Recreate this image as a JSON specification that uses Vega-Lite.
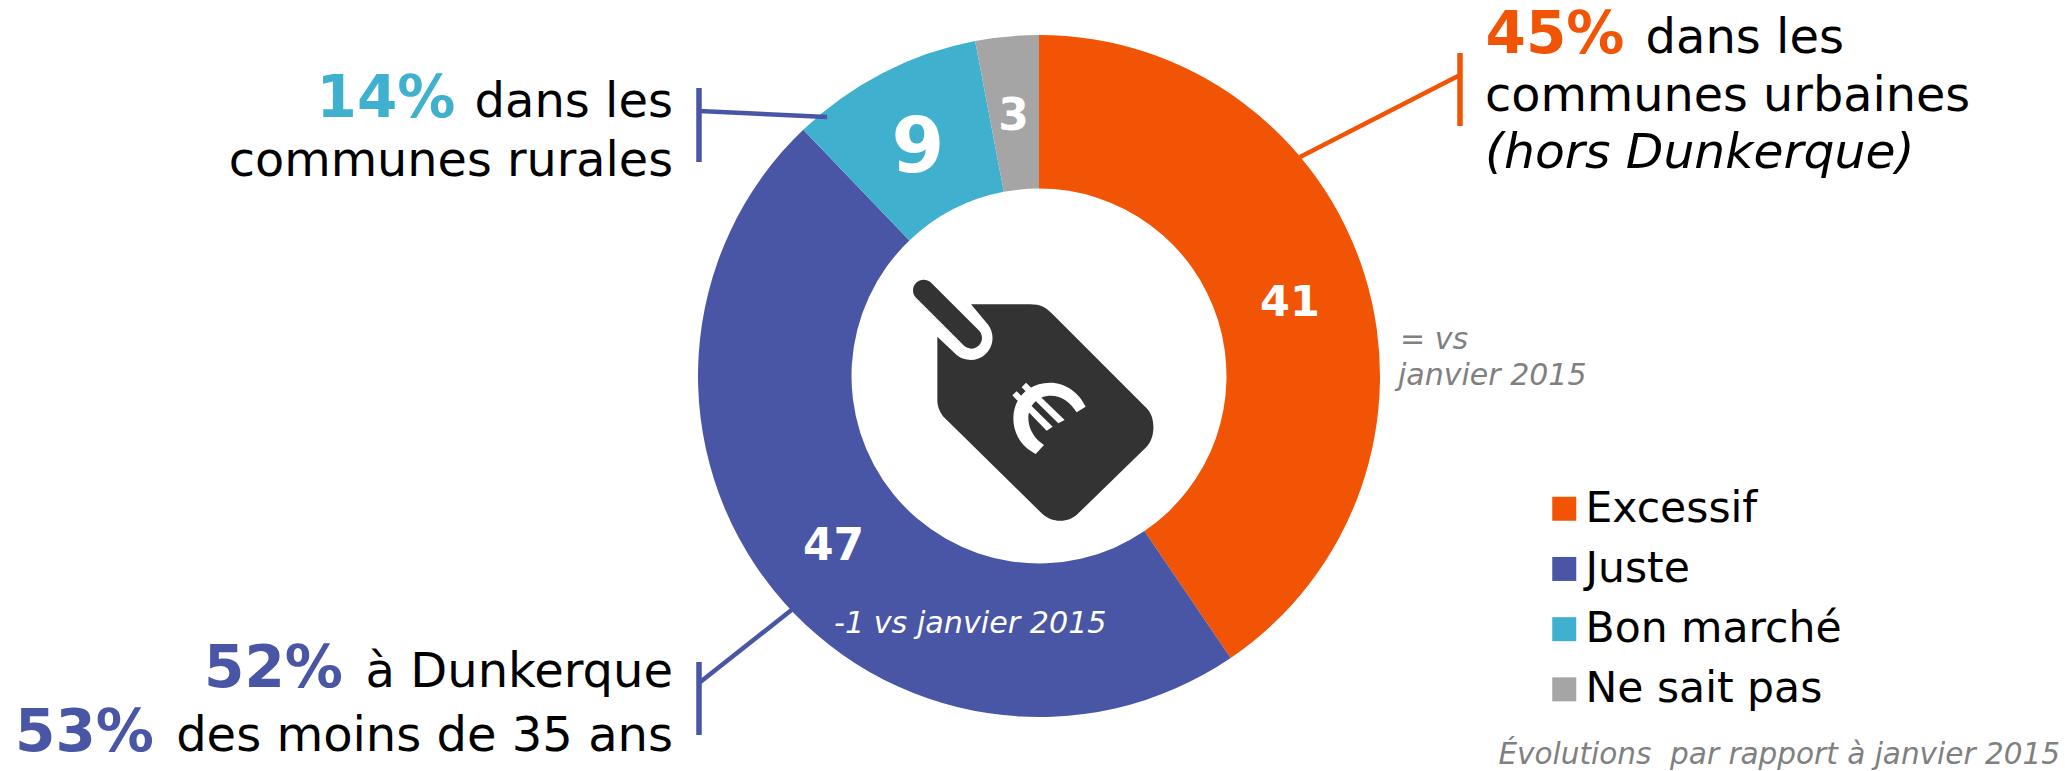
{
"$schema":"https://vega.github.io/schema/vega-lite/v6.json",
"width":2065,"height":771,"padding":0,"autosize":{"type":"none"},
"background":"white",
"config":{"view":{"stroke":null},"text":{"font":"DejaVu Sans","baseline":"alphabetic"},"legend":{"labelFont":"DejaVu Sans"}},
"datasets":{"avis":[
{"categorie":"Excessif","valeur":41,"part":40.5,"rang":1},
{"categorie":"Juste","valeur":47,"part":47.35,"rang":2},
{"categorie":"Bon marché","valeur":9,"part":9.15,"rang":3},
{"categorie":"Ne sait pas","valeur":3,"part":3,"rang":4}
]},
"layer":[
{"data":{"name":"avis"},
 "mark":{"type":"arc","outerRadius":341,"innerRadius":187.5,"stroke":null},
 "encoding":{
  "x":{"datum":1039,"type":"quantitative","scale":{"domain":[0,2065],"nice":false,"zero":false},"axis":null},
  "y":{"datum":376,"type":"quantitative","scale":{"domain":[771,0],"nice":false,"zero":false},"axis":null},
  "theta":{"field":"part","type":"quantitative","stack":true,"scale":{"domain":[0,100],"range":[0,6.283185307]}},
  "order":{"field":"rang","type":"ordinal"},
  "color":{"field":"categorie","type":"nominal",
   "scale":{"domain":["Excessif","Juste","Bon marché","Ne sait pas"],"range":["#F25405","#4955A5","#3FB1CE","#A5A5A5"]},
   "legend":{"title":null,"orient":"none","legendX":1543,"legendY":487.5,"symbolType":"square","symbolSize":576,"symbolStrokeWidth":0,"labelFontSize":42.5,"labelColor":"#000000","labelOffset":0,"rowPadding":17.2,"labelLimit":400}}
 }},
{"data":{"values":[{"id":"etiquette"}]},
 "mark":{"type":"point","filled":true,"opacity":1,"fill":"#333333","strokeWidth":0,"size":0.4444,
  "shape":"M-204,-215 L-27,-215 C5,-215 20,-206 38,-188 L323,97 C350,122 350,186 323,212 L118,412 C90,442 38,442 8,412 L-282,127 C-297,112 -305,92 -305,72 L-305,-118 L-247,-63 A66 66 0 0 0 -152,-153 Z M-324.4,-280.6 L-179.4,-135.6 A32 32 0 0 1 -224.6,-90.4 L-369.6,-235.4 A32 32 0 0 1 -324.4,-280.6 Z"},
 "encoding":{"x":{"datum":1039},"y":{"datum":376}}},
{"data":{"values":[{"id":"euro"}]},
 "mark":{"type":"point","filled":true,"opacity":1,"fill":"#ffffff","strokeWidth":0,"size":0.4444,
  "shape":"M140,92 C120,50 80,20 33,20 C-30,20 -77,65 -77,127 C-77,175 -50,215 -10,234 L15,207 C-12,190 -32,160 -32,127 C-32,90 -5,59 35,59 C70,59 95,80 113,109 Z M-39,20 L-52,34 L58,142 L77,132 Z M-67,46 L-80,58 L23,164 L41,152 Z"},
 "encoding":{"x":{"datum":1039},"y":{"datum":376}}},
{"data":{"name":"avis"},"transform":[{"filter":"datum.categorie==='Excessif'"}],
 "mark":{"type":"text","fontWeight":"bold","fontSize":43,"fill":"#ffffff","align":"center"},
 "encoding":{"x":{"datum":1290},"y":{"datum":316},"text":{"field":"valeur"}}},
{"data":{"name":"avis"},"transform":[{"filter":"datum.categorie==='Juste'"}],
 "mark":{"type":"text","fontWeight":"bold","fontSize":44,"fill":"#ffffff","align":"center"},
 "encoding":{"x":{"datum":833.5},"y":{"datum":560},"text":{"field":"valeur"}}},
{"data":{"name":"avis"},"transform":[{"filter":"datum.categorie==='Bon marché'"}],
 "mark":{"type":"text","fontWeight":"bold","fontSize":76,"fill":"#ffffff","align":"center"},
 "encoding":{"x":{"datum":918},"y":{"datum":172},"text":{"field":"valeur"}}},
{"data":{"name":"avis"},"transform":[{"filter":"datum.categorie==='Ne sait pas'"}],
 "mark":{"type":"text","fontWeight":"bold","fontSize":44,"fill":"#ffffff","align":"center"},
 "encoding":{"x":{"datum":1013.5},"y":{"datum":130},"text":{"field":"valeur"}}},

{"data":{"values":[{"id":"trait"}]},"mark":{"type":"rule","stroke":"#4955A5","strokeWidth":5.5},"encoding":{"x":{"datum":699},"y":{"datum":88},"y2":{"datum":162}}},
{"data":{"values":[{"id":"trait"}]},"mark":{"type":"rule","stroke":"#4955A5","strokeWidth":4.5},"encoding":{"x":{"datum":699},"y":{"datum":111},"x2":{"datum":827},"y2":{"datum":117}}},
{"data":{"values":[{"id":"trait"}]},"mark":{"type":"rule","stroke":"#F25405","strokeWidth":5.5},"encoding":{"x":{"datum":1460},"y":{"datum":53},"y2":{"datum":126}}},
{"data":{"values":[{"id":"trait"}]},"mark":{"type":"rule","stroke":"#F25405","strokeWidth":4.5},"encoding":{"x":{"datum":1460},"y":{"datum":75},"x2":{"datum":1300},"y2":{"datum":157}}},
{"data":{"values":[{"id":"trait"}]},"mark":{"type":"rule","stroke":"#4955A5","strokeWidth":5.5},"encoding":{"x":{"datum":699},"y":{"datum":662},"y2":{"datum":735}}},
{"data":{"values":[{"id":"trait"}]},"mark":{"type":"rule","stroke":"#4955A5","strokeWidth":4.5},"encoding":{"x":{"datum":699},"y":{"datum":683},"x2":{"datum":794},"y2":{"datum":608}}},

{"data":{"values":[{"t":"14%"}]},"mark":{"type":"text","fontWeight":"bold","fontSize":58,"fill":"#3FB1CE","align":"center"},"encoding":{"x":{"datum":386},"y":{"datum":117},"text":{"field":"t"}}},
{"data":{"values":[{"t":"dans les"}]},"mark":{"type":"text","fontSize":48,"fill":"#000000","align":"right"},"encoding":{"x":{"datum":673},"y":{"datum":117},"text":{"field":"t"}}},
{"data":{"values":[{"t":"communes rurales"}]},"mark":{"type":"text","fontSize":47.7,"fill":"#000000","align":"right"},"encoding":{"x":{"datum":673},"y":{"datum":176},"text":{"field":"t"}}},

{"data":{"values":[{"t":"45%"}]},"mark":{"type":"text","fontWeight":"bold","fontSize":58,"fill":"#F25405","align":"center"},"encoding":{"x":{"datum":1555},"y":{"datum":53},"text":{"field":"t"}}},
{"data":{"values":[{"t":"dans les"}]},"mark":{"type":"text","fontSize":48,"fill":"#000000","align":"right"},"encoding":{"x":{"datum":1844},"y":{"datum":53},"text":{"field":"t"}}},
{"data":{"values":[{"t":"communes urbaines"}]},"mark":{"type":"text","fontSize":47.7,"fill":"#000000","align":"left"},"encoding":{"x":{"datum":1485},"y":{"datum":111},"text":{"field":"t"}}},
{"data":{"values":[{"t":"(hors Dunkerque)"}]},"mark":{"type":"text","fontSize":48.8,"fontStyle":"italic","fill":"#000000","align":"left"},"encoding":{"x":{"datum":1485},"y":{"datum":168},"text":{"field":"t"}}},

{"data":{"values":[{"t":"= vs"}]},"mark":{"type":"text","fontSize":30,"fontStyle":"italic","fill":"#808080","align":"left"},"encoding":{"x":{"datum":1400},"y":{"datum":349},"text":{"field":"t"}}},
{"data":{"values":[{"t":"janvier 2015"}]},"mark":{"type":"text","fontSize":30,"fontStyle":"italic","fill":"#808080","align":"left"},"encoding":{"x":{"datum":1398},"y":{"datum":385},"text":{"field":"t"}}},
{"data":{"values":[{"t":"-1 vs janvier 2015"}]},"mark":{"type":"text","fontSize":30.2,"fontStyle":"italic","fill":"#ffffff","align":"left"},"encoding":{"x":{"datum":834},"y":{"datum":633},"text":{"field":"t"}}},

{"data":{"values":[{"t":"52%"}]},"mark":{"type":"text","fontWeight":"bold","fontSize":58,"fill":"#4955A5","align":"center"},"encoding":{"x":{"datum":273.5},"y":{"datum":687},"text":{"field":"t"}}},
{"data":{"values":[{"t":"à Dunkerque"}]},"mark":{"type":"text","fontSize":48,"fill":"#000000","align":"right"},"encoding":{"x":{"datum":673},"y":{"datum":687},"text":{"field":"t"}}},
{"data":{"values":[{"t":"53%"}]},"mark":{"type":"text","fontWeight":"bold","fontSize":58,"fill":"#4955A5","align":"center"},"encoding":{"x":{"datum":84.5},"y":{"datum":751},"text":{"field":"t"}}},
{"data":{"values":[{"t":"des moins de 35 ans"}]},"mark":{"type":"text","fontSize":48,"fill":"#000000","align":"right"},"encoding":{"x":{"datum":673},"y":{"datum":751},"text":{"field":"t"}}},

{"data":{"values":[{"t":"Évolutions \u00a0par rapport à janvier 2015"}]},"mark":{"type":"text","fontSize":29.5,"fontStyle":"italic","fill":"#808080","align":"right"},"encoding":{"x":{"datum":2060},"y":{"datum":764},"text":{"field":"t"}}}
]
}
